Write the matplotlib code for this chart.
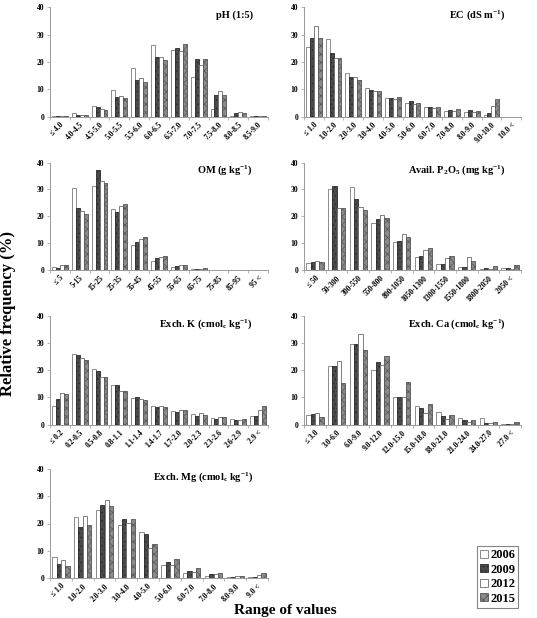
import matplotlib
matplotlib.use("Agg")
import matplotlib.pyplot as plt
import numpy as np

plt.rcParams['font.family'] = ['Liberation Serif', 'DejaVu Serif']
plt.rcParams['hatch.linewidth'] = 0.5

years = ["2006", "2009", "2012", "2015"]

ph_cats = ["≤ 4.0", "4.0-4.5", "4.5-5.0", "5.0-5.5", "5.5-6.0", "6.0-6.5", "6.5-7.0",
           "7.0-7.5", "7.5-8.0", "8.0-8.5", "8.5-9.0"]
ph_2006 = [0.2, 1.2, 3.9, 9.6, 17.9, 26.2, 24.6, 14.4, 2.8, 0.3, 0.2]
ph_2009 = [0.2, 0.8, 3.4, 7.1, 13.4, 21.7, 25.1, 21.1, 7.8, 1.2, 0.2]
ph_2012 = [0.2, 0.7, 2.8, 7.4, 14.0, 22.0, 24.0, 19.1, 9.3, 1.7, 0.3]
ph_2015 = [0.2, 0.5, 2.6, 6.8, 12.7, 20.7, 26.8, 21.1, 7.8, 1.4, 0.4]

ec_cats = ["≤ 1.0", "1.0-2.0", "2.0-3.0", "3.0-4.0", "4.0-5.0", "5.0-6.0", "6.0-7.0",
           "7.0-8.0", "8.0-9.0", "9.0-10.0", "10.0 <"]
ec_2006 = [25.4, 28.3, 15.9, 10.4, 7.0, 4.9, 3.4, 2.0, 1.6, 0.7, 0]
ec_2009 = [29.0, 23.4, 14.5, 9.9, 7.0, 5.6, 3.7, 2.3, 2.3, 1.5, 0]
ec_2012 = [33.4, 21.5, 14.4, 9.3, 6.6, 4.8, 3.2, 2.2, 1.8, 3.8, 0]
ec_2015 = [29.0, 21.5, 13.3, 9.3, 7.1, 5.0, 3.5, 2.8, 2.1, 6.5, 0]

om_cats = ["≤ 5", "5-15", "15-25", "25-35", "35-45", "45-55", "55-65", "65-75",
           "75-85", "85-95", "95 <"]
om_2006 = [1.0, 30.6, 31.2, 22.6, 9.4, 3.5, 1.2, 0.2, 0.0, 0, 0]
om_2009 = [0.6, 23.2, 37.3, 21.5, 10.4, 4.3, 1.5, 0.4, 0.1, 0, 0]
om_2012 = [1.8, 22.0, 33.3, 24.0, 11.4, 4.8, 2.0, 0.5, 0.1, 0, 0]
om_2015 = [2.0, 21.0, 32.2, 24.5, 12.1, 5.1, 1.8, 0.6, 0.0, 0, 0]

p_cats = ["≤ 50", "50-300", "300-550", "550-800", "800-1050", "1050-1300",
          "1300-1550", "1550-1800", "1800-2050", "2050 <"]
p_2006 = [2.7, 30.1, 31.0, 17.5, 10.6, 4.9, 2.3, 1.1, 0.3, 0.8]
p_2009 = [2.8, 31.1, 26.6, 19.0, 10.9, 5.1, 2.4, 1.3, 0.6, 0.9]
p_2012 = [3.3, 22.9, 23.5, 20.5, 13.3, 7.6, 4.3, 4.8, 0.3, 0.4]
p_2015 = [3.0, 23.0, 22.5, 19.4, 12.3, 8.1, 5.3, 3.5, 1.6, 2.0]

k_cats = ["≤ 0.2", "0.2-0.5", "0.5-0.8", "0.8-1.1", "1.1-1.4", "1.4-1.7", "1.7-2.0",
          "2.0-2.3", "2.3-2.6", "2.6-2.9", "2.9 <"]
k_2006 = [7.0, 26.0, 20.6, 14.6, 9.7, 7.0, 4.8, 3.7, 2.5, 2.0, 3.3]
k_2009 = [9.5, 25.8, 19.8, 14.4, 10.1, 6.3, 4.6, 3.1, 2.2, 1.5, 3.2]
k_2012 = [11.7, 24.6, 17.4, 12.4, 9.4, 7.0, 5.4, 4.1, 2.7, 1.8, 5.2]
k_2015 = [11.4, 23.6, 17.4, 12.4, 9.1, 6.6, 5.2, 3.6, 2.7, 2.2, 7.0]

ca_cats = ["≤ 3.0", "3.0-6.0", "6.0-9.0", "9.0-12.0", "12.0-15.0", "15.0-18.0",
           "18.0-21.0", "21.0-24.0", "24.0-27.0", "27.0 <"]
ca_2006 = [3.4, 21.5, 29.8, 20.0, 10.3, 6.7, 4.7, 2.3, 2.3, 0.3]
ca_2009 = [3.7, 21.6, 29.8, 23.1, 10.3, 6.0, 3.1, 1.8, 0.7, 0.2]
ca_2012 = [4.3, 23.4, 33.5, 22.1, 10.2, 4.3, 2.1, 1.1, 0.5, 0.3]
ca_2015 = [2.8, 15.3, 27.5, 25.3, 15.8, 7.4, 3.6, 1.7, 0.9, 1.1]

mg_cats = ["≤ 1.0", "1.0-2.0", "2.0-3.0", "3.0-4.0", "4.0-5.0", "5.0-6.0", "6.0-7.0",
           "7.0-8.0", "8.0-9.0", "9.0 <"]
mg_2006 = [7.6, 22.3, 24.8, 19.5, 17.0, 4.8, 1.8, 0.9, 0.3, 0.2]
mg_2009 = [5.3, 18.6, 26.7, 21.5, 16.1, 5.9, 2.7, 1.3, 0.5, 0.4]
mg_2012 = [6.5, 22.6, 28.7, 20.2, 11.0, 4.8, 2.3, 1.3, 0.6, 1.0]
mg_2015 = [4.4, 19.5, 26.4, 21.7, 12.5, 6.8, 3.5, 2.0, 0.6, 1.8]

panels = [
    ("pH (1:5)", ph_cats, [ph_2006, ph_2009, ph_2012, ph_2015]),
    ("EC (dS m$^{-1}$)", ec_cats, [ec_2006, ec_2009, ec_2012, ec_2015]),
    ("OM (g kg$^{-1}$)", om_cats, [om_2006, om_2009, om_2012, om_2015]),
    ("Avail. P$_2$O$_5$ (mg kg$^{-1}$)", p_cats, [p_2006, p_2009, p_2012, p_2015]),
    ("Exch. K (cmol$_c$ kg$^{-1}$)", k_cats, [k_2006, k_2009, k_2012, k_2015]),
    ("Exch. Ca (cmol$_c$ kg$^{-1}$)", ca_cats, [ca_2006, ca_2009, ca_2012, ca_2015]),
    ("Exch. Mg (cmol$_c$ kg$^{-1}$)", mg_cats, [mg_2006, mg_2009, mg_2012, mg_2015]),
]

styles = [
    dict(facecolor="white", edgecolor="#7a7a7a", hatch=None),
    dict(facecolor="#4a4a4a", edgecolor="#2a2a2a", hatch="...."),
    dict(facecolor="white", edgecolor="#6a6a6a", hatch=None),
    dict(facecolor="#8a8a8a", edgecolor="#555555", hatch="xxxx"),
]

plt.rcParams['mathtext.fontset'] = 'custom'
plt.rcParams['mathtext.rm'] = 'Liberation Serif:bold'
plt.rcParams['mathtext.it'] = 'Liberation Serif:bold'
plt.rcParams['mathtext.bf'] = 'Liberation Serif:bold'

W, H = 537, 618
fig = plt.figure(figsize=(W / 100, H / 100), dpi=100)

col_x = [(50, 268), (304, 521)]
row_y = [(7.5, 116.7), (162.5, 270.0), (316.0, 424.5), (469.0, 578.0)]

handles = None
for i, (title, cats, series) in enumerate(panels):
    r, c = divmod(i, 2)
    x0, x1 = col_x[c]
    yt, yb = row_y[r]
    ax = fig.add_axes([x0 / W, 1 - yb / H, (x1 - x0) / W, (yb - yt) / H])
    n = len(cats)
    x = np.arange(n)
    bw = 0.2
    hs = []
    for k, (vals, st) in enumerate(zip(series, styles)):
        b = ax.bar(x + (k - 1.5) * bw, vals, width=bw, facecolor=st["facecolor"],
                   edgecolor=st["edgecolor"], hatch=st["hatch"], linewidth=0.6,
                   label=years[k])
        hs.append(b)
    if handles is None:
        handles = hs
    ax.set_xlim(-0.5, n - 0.5)
    ax.set_ylim(0, 40)
    ax.set_yticks([0, 10, 20, 30, 40])
    ax.set_yticklabels(["0", "10", "20", "30", "40"], fontsize=5.5, fontweight="bold")
    ax.set_xticks(x)
    ax.set_xticklabels(cats, rotation=45, ha="right", rotation_mode="anchor",
                       fontsize=5.5, fontweight="bold")
    ax.set_xticks(np.arange(n + 1) - 0.5, minor=True)
    ax.tick_params(axis="x", which="major", length=0, pad=3)
    ax.tick_params(axis="x", which="minor", length=2, color="#aaaaaa", width=0.6)
    ax.tick_params(axis="y", length=2, color="#aaaaaa", width=0.6, pad=2)
    for s in ["top", "right"]:
        ax.spines[s].set_visible(False)
    for s in ["left", "bottom"]:
        ax.spines[s].set_color("#999999")
        ax.spines[s].set_linewidth(0.7)
    ax.text(0.93, 0.93, title, transform=ax.transAxes, ha="right", va="center",
            fontsize=7.5, fontweight="bold")

fig.text(8 / W, 1 - 313 / H, "Relative frequency (%)", rotation=90, ha="center",
         va="center", fontsize=12, fontweight="bold")
fig.text(285 / W, 1 - 617 / H, "Range of values", ha="center", va="bottom",
         fontsize=11, fontweight="bold")

leg = fig.legend(handles, years, loc="upper left",
                 bbox_to_anchor=(477 / W, 1 - 546 / H), frameon=True, fancybox=False,
                 edgecolor="#666666", prop={"weight": "bold", "size": 9},
                 handlelength=0.6, handleheight=0.6, handletextpad=0.2,
                 borderpad=0.25, labelspacing=0.2, borderaxespad=0)
leg.get_frame().set_linewidth(0.8)

fig.savefig("out.png", dpi=100)
